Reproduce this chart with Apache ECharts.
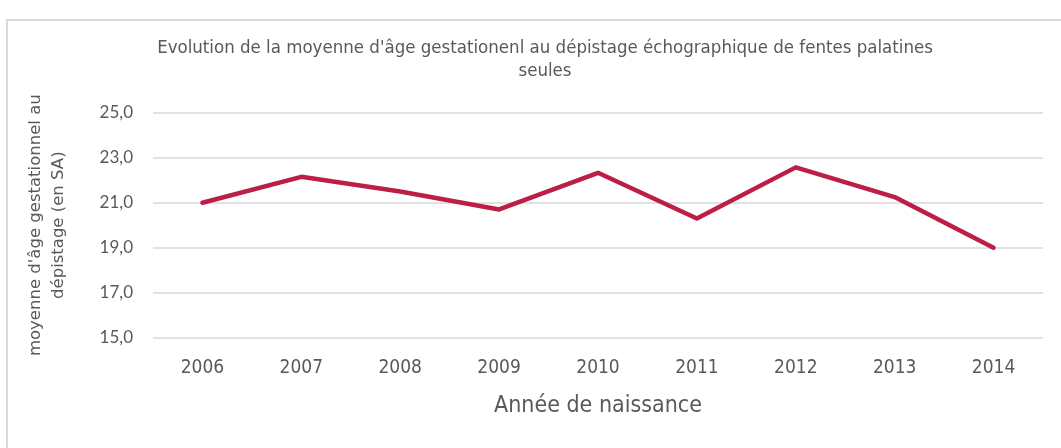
<!DOCTYPE html>
<html>
<head>
<meta charset="utf-8">
<script src="https://cdn.jsdelivr.net/npm/echarts@6/dist/echarts.min.js"></script>
<style>
  html, body { margin: 0; padding: 0; background: #fff; }
  #demo { width: 1061px; height: 448px; }
</style>
</head>
<body>
<div id="demo"></div>
<script>
var annees = ['2006', '2007', '2008', '2009', '2010', '2011', '2012', '2013', '2014'];
var moyenneAge = [21.0, 22.15, 21.5, 20.7, 22.33, 20.3, 22.57, 21.25, 19.0];
var yTicks = [15, 17, 19, 21, 23, 25];

var narrow = "'Liberation Sans Narrow', 'DejaVu Sans Condensed', sans-serif";

window.onload = function() {
    var option = {
        animation: false,
        title: {
            text: "Evolution de la moyenne d'âge gestationenl au dépistage échographique de fentes palatines\nseules",
            left: 540,
            top: 32,
            textAlign: 'center',
            textStyle: {
                fontFamily: narrow,
                fontSize: 18.5,
                fontWeight: 'normal',
                color: '#595959',
                lineHeight: 23
            }
        },
        graphic: [{
            type: 'rect',
            shape: { x: 7, y: 20, width: 1100, height: 500 },
            style: { fill: null, stroke: '#D9D9D9', lineWidth: 2 },
            silent: true
        }],
        grid: {
            left: 153,
            right: 18,
            top: 112.7,
            bottom: 110.3
        },
        xAxis: [{
            type: 'category',
            data: annees,
            boundaryGap: true,
            axisTick: { show: false },
            axisLine: { show: false },
            axisLabel: {
                margin: 21,
                fontFamily: narrow,
                fontSize: 19,
                color: '#595959'
            },
            name: 'Année de naissance',
            nameLocation: 'middle',
            nameGap: 57,
            nameTextStyle: {
                fontFamily: narrow,
                fontSize: 23,
                color: '#595959'
            }
        }],
        yAxis: [{
            type: 'value',
            min: yTicks[0],
            max: yTicks[yTicks.length - 1],
            interval: 2,
            axisTick: { show: false },
            axisLine: { show: false },
            splitLine: { lineStyle: { color: '#D9D9D9', width: 1.5 } },
            axisLabel: {
                margin: 20,
                fontFamily: "Lato, sans-serif",
                fontSize: 17,
                color: '#595959',
                formatter: function(v) { return v.toFixed(1).replace('.', ','); }
            },
            name: "moyenne d'âge gestationnel au\ndépistage (en SA)",
            nameLocation: 'middle',
            nameGap: 83,
            nameTextStyle: {
                fontFamily: "'DejaVu Sans', sans-serif",
                fontSize: 16.5,
                lineHeight: 23,
                color: '#595959'
            }
        }],
        series: [{
            name: 'moyenne',
            type: 'line',
            data: moyenneAge,
            showSymbol: false,
            lineStyle: { color: '#BC1E45', width: 4.5, cap: 'round', join: 'round' },
            itemStyle: { color: '#BC1E45' }
        }]
    };
    var myCharts = echarts.init(document.getElementById('demo'));
    myCharts.setOption(option);
};
</script>
</body>
</html>
